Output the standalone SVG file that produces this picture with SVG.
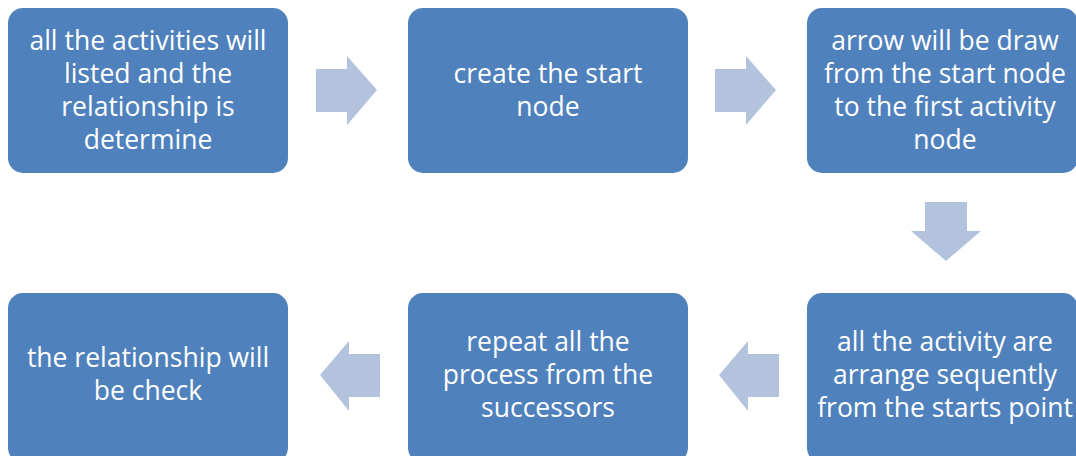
<svg xmlns="http://www.w3.org/2000/svg" width="1076" height="456" viewBox="0 0 1076 456">
  <style>
    .box { fill: #4F81BD; }
    .arrow { fill: #B3C3DE; }
    .label { fill: #FFFFFF; font-family: "Open Sans", "Liberation Sans", sans-serif; font-size: 26.5px; text-anchor: middle; font-variant-ligatures: none; }
  </style>
  <rect width="1076" height="456" fill="#FFFFFF"/>

  <!-- process steps -->
  <g id="step-list">
    <rect class="box" x="8" y="8" width="280" height="165" rx="15"/>
    <text class="label" x="148" y="50">all the activities will</text>
    <text class="label" x="148" y="83">listed and the</text>
    <text class="label" x="148" y="116">relationship is</text>
    <text class="label" x="148" y="149">determine</text>
  </g>
  <g id="step-start-node">
    <rect class="box" x="408" y="8" width="280" height="165" rx="15"/>
    <text class="label" x="548" y="83">create the start</text>
    <text class="label" x="548" y="116">node</text>
  </g>
  <g id="step-first-arrow">
    <rect class="box" x="807" y="8" width="271" height="165" rx="15"/>
    <text class="label" x="945" y="50">arrow will be draw</text>
    <text class="label" x="945" y="83">from the start node</text>
    <text class="label" x="945" y="116">to the first activity</text>
    <text class="label" x="945" y="149">node</text>
  </g>
  <g id="step-arrange">
    <rect class="box" x="807" y="293" width="271" height="170" rx="15"/>
    <text class="label" x="945" y="351">all the activity are</text>
    <text class="label" x="945" y="384">arrange sequently</text>
    <text class="label" x="945" y="417">from the starts point</text>
  </g>
  <g id="step-repeat">
    <rect class="box" x="408" y="293" width="280" height="170" rx="15"/>
    <text class="label" x="548" y="351">repeat all the</text>
    <text class="label" x="548" y="384">process from the</text>
    <text class="label" x="548" y="417">successors</text>
  </g>
  <g id="step-check">
    <rect class="box" x="8" y="293" width="280" height="170" rx="15"/>
    <text class="label" x="148" y="367">the relationship will</text>
    <text class="label" x="148" y="400">be check</text>
  </g>

  <!-- block arrows between steps -->
  <g id="connectors">
    <polygon class="arrow" points="316,69 347,69 347,56 377,90 347,125 347,112 316,112"/>
    <polygon class="arrow" points="715,69 746,69 746,56 776,90 746,125 746,112 715,112"/>
    <polygon class="arrow" points="925,202 967,202 967,231 981,231 946,261 911,231 925,231"/>
    <polygon class="arrow" points="779,354 748,354 748,341 719,375 748,411 748,397 779,397"/>
    <polygon class="arrow" points="380,354 349,354 349,341 320,375 349,411 349,397 380,397"/>
  </g>
</svg>
